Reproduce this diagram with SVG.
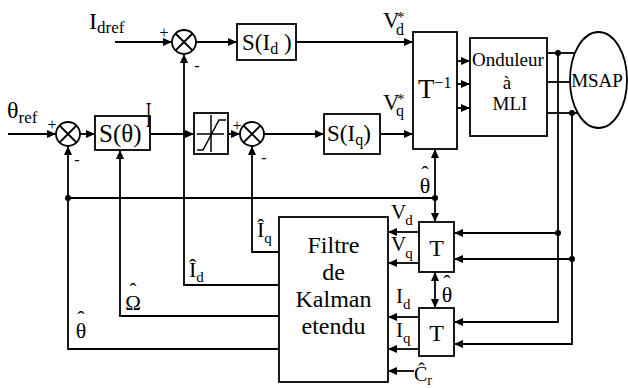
<svg xmlns="http://www.w3.org/2000/svg" width="628" height="388" viewBox="0 0 628 388" font-family="'Liberation Serif', 'DejaVu Serif', 'Times New Roman', serif">
<defs>
<marker id="ah" markerWidth="9" markerHeight="8" refX="9" refY="4" orient="auto-start-reverse" markerUnits="userSpaceOnUse"><path d="M0,0 L9,4 L0,8 z" fill="#000"/></marker>
<style>
.b{fill:#fff;stroke:#000;stroke-width:1.8}
.l{fill:none;stroke:#000;stroke-width:1.8}
.a{fill:none;stroke:#000;stroke-width:1.8;marker-end:url(#ah)}
text{font-family:'Liberation Serif','DejaVu Serif','Times New Roman',serif;fill:#000}
.s{font-size:16px}
.m{text-anchor:middle}
</style>
</defs>
<rect width="628" height="388" fill="#fff"/>
<g id="connectors">
<path class="a" d="M115,42 H172"/>
<path class="a" d="M196,42 H237"/>
<path class="a" d="M296,42 H413"/>
<path class="a" d="M8,134 H56"/>
<path class="a" d="M80,134 H95"/>
<path class="a" d="M150,134 H194"/>
<path class="a" d="M228,134 H240"/>
<path class="a" d="M264,134 H324"/>
<path class="a" d="M380,134 H413"/>
<path class="a" d="M457,61 H470"/>
<path class="a" d="M457,84 H470"/>
<path class="a" d="M457,108 H470"/>
<path class="l" d="M547,53 H575"/>
<path class="l" d="M547,82 H571"/>
<path class="l" d="M547,113 H578"/>
<path class="a" d="M558,53 V322 H454"/>
<path class="a" d="M572,113 V344 H454"/>
<path class="a" d="M558,233 H454"/>
<path class="a" d="M572,259 H454"/>
<path class="l" d="M68,198 H435"/>
<path class="a" d="M435,198 V149"/>
<path class="a" d="M435,198 V222"/>
<path class="a" d="M279,349 H68 V146"/>
<path class="a" d="M279,316 H120 V150"/>
<path class="a" d="M279,285 H184 V54"/>
<path class="a" d="M279,252 H252 V146"/>
<path class="a" d="M419,232 H388"/>
<path class="a" d="M419,263 H388"/>
<path class="a" d="M419,317 H388"/>
<path class="a" d="M419,349 H388"/>
<path class="a" d="M414,371 H388"/>
<path class="a" d="M435,272 V308" style="marker-start:url(#ah)"/>
<g fill="#000">
<circle cx="558" cy="53" r="3"/>
<circle cx="572" cy="113" r="3"/>
<circle cx="558" cy="233" r="3"/>
<circle cx="572" cy="259" r="3"/>
<circle cx="68" cy="198" r="3"/>
<circle cx="435" cy="198" r="3"/>
</g>
</g>
<g id="sum1">
<circle class="b" cx="184" cy="42" r="12"/>
<path class="l" d="M175.5,33.5 L192.5,50.5 M192.5,33.5 L175.5,50.5"/>
<text class="s m" x="164" y="38">+</text>
<text class="s m" x="197" y="71">-</text>
</g>
<g id="sum2">
<circle class="b" cx="68" cy="134" r="12"/>
<path class="l" d="M59.5,125.5 L76.5,142.5 M76.5,125.5 L59.5,142.5"/>
<text class="s m" x="52" y="130">+</text>
<text class="s m" x="77" y="165">-</text>
</g>
<g id="sum3">
<circle class="b" cx="252" cy="134" r="12"/>
<path class="l" d="M243.5,125.5 L260.5,142.5 M260.5,125.5 L243.5,142.5"/>
<text class="s m" x="237" y="131">+</text>
<text class="s m" x="264" y="163">-</text>
</g>
<g id="idref-label">
<text x="89" y="29" font-size="24">I<tspan font-size="17" dy="4">dref</tspan></text>
</g>
<g id="thetaref-label">
<text x="7" y="118" font-size="24">θ<tspan font-size="17" dy="5">ref</tspan></text>
</g>
<g id="S-Id">
<rect class="b" x="237" y="24" width="59" height="36"/>
<text x="242" y="50" font-size="23">S(I<tspan font-size="16" dy="4">d</tspan><tspan dy="-4"> )</tspan></text>
</g>
<g id="S-theta">
<rect class="b" x="95" y="116" width="55" height="34"/>
<text x="99" y="142" font-size="25">S(θ)</text>
</g>
<g id="stray-I">
<text transform="translate(146,127) scale(0.65,1.5)" font-size="24">I</text>
</g>
<g id="saturation">
<rect class="b" x="194" y="113" width="34" height="41"/>
<path class="l" style="stroke-width:1.5" d="M197,134 H224 M211,115 V152"/>
<path class="l" style="stroke-width:1.5" d="M197,150 H203 L219,120 H226"/>
</g>
<g id="S-Iq">
<rect class="b" x="324" y="114" width="56" height="40"/>
<text x="327" y="141" font-size="23">S(I<tspan font-size="16" dy="4">q</tspan><tspan dy="-4">)</tspan></text>
</g>
<g id="Vd-star">
<text x="383" y="28" font-size="23">V<tspan font-size="16" x="396" y="35">d</tspan><tspan font-size="15" x="397" y="22">*</tspan></text>
</g>
<g id="Vq-star">
<text x="383" y="110" font-size="23">V<tspan font-size="16" x="396" y="116">q</tspan><tspan font-size="15" x="397" y="104">*</tspan></text>
</g>
<g id="Tinv">
<rect class="b" x="413" y="32" width="44" height="117"/>
<text x="418" y="98" font-size="27">T<tspan font-size="16" dy="-10">−1</tspan></text>
</g>
<g id="onduleur">
<rect class="b" x="470" y="38" width="77" height="98"/>
<text class="m" x="508" y="66" font-size="19">Onduleur</text>
<text class="m" x="507" y="89" font-size="19">à</text>
<text class="m" x="510" y="110" font-size="19">MLI</text>
</g>
<g id="msap">
<ellipse class="l" cx="598.5" cy="80" rx="28.5" ry="48"/>
<text class="m" x="597" y="87" font-size="19">MSAP</text>
</g>
<g id="theta-hat-top">
<text class="m" font-size="22"><tspan x="425" y="181">ˆ</tspan><tspan x="425" y="193">θ</tspan></text>
</g>
<g id="kalman">
<rect class="b" x="279" y="217" width="109" height="165"/>
<text class="m" x="333.5" y="253" font-size="24">Filtre</text>
<text class="m" x="333.5" y="280" font-size="24">de</text>
<text class="m" x="333.5" y="307" font-size="24">Kalman</text>
<text class="m" x="333.5" y="334" font-size="24">etendu</text>
</g>
<g id="T-upper">
<rect class="b" x="419" y="222" width="35" height="50"/>
<text class="m" x="436.5" y="256" font-size="24">T</text>
</g>
<g id="T-lower">
<rect class="b" x="419" y="308" width="35" height="48"/>
<text class="m" x="436.5" y="341" font-size="24">T</text>
</g>
<g id="theta-hat-mid">
<text class="m" font-size="22"><tspan x="447" y="290">ˆ</tspan><tspan x="447" y="302">θ</tspan></text>
</g>
<g id="labels-T">
<text x="391" y="219" font-size="21">V<tspan font-size="15" dx="-1" dy="6">d</tspan></text>
<text x="391" y="251" font-size="21">V<tspan font-size="15" dx="-1" dy="7">q</tspan></text>
<text x="396" y="303" font-size="21">I<tspan font-size="15" dy="6">d</tspan></text>
<text x="396" y="337" font-size="21">I<tspan font-size="15" dy="6">q</tspan></text>
<text x="414" y="381" font-size="20">Ĉ<tspan font-size="14" dy="4">r</tspan></text>
</g>
<g id="labels-left">
<text x="257" y="237" font-size="22">Î<tspan font-size="15" dy="6">q</tspan></text>
<text x="189" y="277" font-size="22">Î<tspan font-size="15" dy="5">d</tspan></text>
<text class="m" font-size="21"><tspan x="133" y="298">ˆ</tspan><tspan x="133" y="310">Ω</tspan></text>
<text class="m" font-size="22"><tspan x="81" y="326">ˆ</tspan><tspan x="81" y="338">θ</tspan></text>
</g>
</svg>
